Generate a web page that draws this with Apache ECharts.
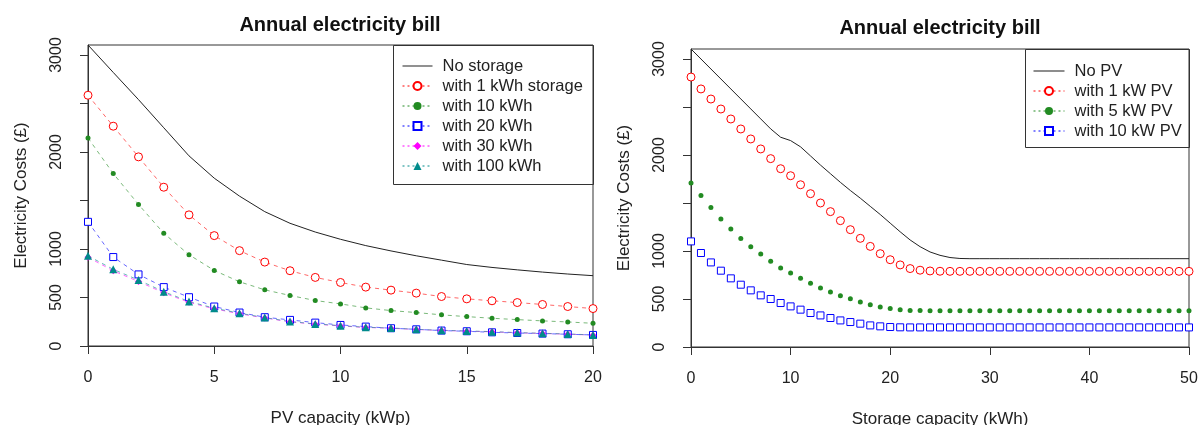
<!DOCTYPE html>
<html><head><meta charset="utf-8">
<script src="https://cdn.jsdelivr.net/npm/echarts@6/dist/echarts.min.js"></script>
<style>html,body{margin:0;padding:0;background:#fff}#c{width:1201px;height:425px}</style>
</head><body><div id="c"></div>
<script>
// ---- Left chart data: bill vs PV capacity ----
const pvCapacity = [0,1,2,3,4,5,6,7,8,9,10,11,12,13,14,15,16,17,18,19,20];
const noStorage  = [3103,2820,2540,2250,1960,1730,1545,1385,1265,1175,1100,1035,980,930,885,840,810,785,762,742,725];
const storage1   = [2585,2266,1950,1637,1352,1138,983,865,776,707,655,607,576,545,510,486,466,448,428,407,386];
const storage10  = [2145,1778,1459,1162,941,779,662,579,521,469,434,393,365,345,321,303,286,272,259,248,234];
const storage20  = [1280,917,738,607,503,407,345,297,269,241,217,200,183,172,159,152,141,134,128,121,114];
const storage30  = [915,775,665,548,450,383,332,289,249,225,207,191,183,170,160,153,146,136,129,122,112];
const storage100 = [930,790,680,560,459,390,338,293,252,228,210,193,186,172,162,155,148,138,131,124,114];

// ---- Right chart data: bill vs storage capacity ----
const storageCapacity = [0,1,2,3,4,5,6,7,8,9,10,11,12,13,14,15,16,17,18,19,20,21,22,23,24,25,26,27,28,29,30,31,32,33,34,35,36,37,38,39,40,41,42,43,44,45,46,47,48,49,50];
const noPV  = [3104,3000,2896,2792,2688,2584,2480,2376,2272,2185,
               2150,2085,1990,1895,1805,1715,1630,1550,1465,1380,
               1290,1200,1115,1045,990,955,932,922,920,920,
               920,920,920,920,920,920,920,920,920,920,
               920,920,920,920,920,920,920,920,920,920,
               920];
const pv1   = [2812,2688,2583,2479,2375,2271,2167,2063,1962,1857,
               1784,1690,1597,1500,1410,1316,1222,1132,1048,972,
               909,855,817,800,792,789,788,788,788,788,
               788,788,788,788,788,788,788,788,788,788,
               788,788,788,788,788,788,788,788,788,788,
               788];
const pv5   = [1708,1579,1454,1333,1229,1131,1045,969,892,823,
               771,715,663,615,573,534,503,469,441,417,
               402,389,381,379,378,378,378,378,378,378,
               378,378,378,378,378,378,378,378,378,378,
               378,378,378,378,378,378,378,378,378,378,
               378];
const pv10  = [1100,979,881,795,715,649,590,538,500,458,
               423,389,354,329,302,277,260,243,225,215,
               208,205,204,204,204,204,204,204,204,204,
               204,204,204,204,204,204,204,204,204,204,
               204,204,204,204,204,204,204,204,204,204,
               204];

const yLabelValues = [0,500,1000,2000,3000];
const yTickValues  = [0,500,1000,1500,2000,2500,3000];

const FONT = "'Liberation Sans', Arial, sans-serif";
const TXT = '#222', AX = '#333';
function pairs(xs, ys){ return xs.map((x,i)=>[x, ys[i]]); }

function xAxisCfg(gi, max, interval, name){
  return {type:'value', gridIndex:gi, min:0, max:max, interval:interval,
    name:name, nameLocation:'middle', nameGap:64,
    nameTextStyle:{fontFamily:FONT, fontSize:17, color:TXT},
    axisLine:{onZero:false, lineStyle:{color:AX, width:1}},
    axisTick:{show:true, length:8, lineStyle:{color:AX}},
    axisLabel:{fontFamily:FONT, fontSize:16, color:TXT, margin:24, formatter:v=>String(v)},
    splitLine:{show:false}};
}
function yAxisCfg(gi, max){
  return {type:'value', gridIndex:gi, min:0, max:max,
    name:'Electricity Costs (£)', nameLocation:'middle', nameGap:58, nameRotate:90,
    nameTextStyle:{fontFamily:FONT, fontSize:17, color:TXT},
    axisLine:{show:true, onZero:false, lineStyle:{color:AX, width:1}},
    axisTick:{show:true, length:8, lineStyle:{color:AX}, customValues:yTickValues},
    axisLabel:{fontFamily:FONT, fontSize:16, color:TXT, rotate:90, margin:23, customValues:yLabelValues, formatter:v=>String(v)},
    splitLine:{show:false}};
}
function ser(name, gi, xs, ys, color, symbol, size, hollow, showLine){
  return {type:'line', name:name, xAxisIndex:gi, yAxisIndex:gi, data:pairs(xs, ys),
    symbol:symbol, symbolSize:size, showAllSymbol:true, animation:false,
    itemStyle: hollow ? {color:'#fff', borderColor:color, borderWidth:1} : {color:color, borderWidth:0},
    lineStyle:{color:color, width:1, type:[4,4], opacity: showLine ? 0.6 : 0}};
}
function blackLine(name, gi, xs, ys){
  return {type:'line', name:name, xAxisIndex:gi, yAxisIndex:gi, data:pairs(xs, ys),
    symbol:'none', animation:false, itemStyle:{color:'#222'},
    lineStyle:{color:'#222', width:1}};
}
function legItem(name, color){ return {name:name, lineStyle:{type:[2,3], width:1, opacity:1, color:color}}; }
const LINE_ICON = 'path://M0,0L30,0L30,1L0,1Z';

const option = {
  backgroundColor:'#fff',
  animation:false,
  grid:[
    {left:88, top:45, width:505, height:301, show:true, borderColor:AX, borderWidth:1, backgroundColor:'transparent', containLabel:false, outerBoundsMode:'none'},
    {left:691, top:49, width:498, height:298, show:true, borderColor:AX, borderWidth:1, backgroundColor:'transparent', containLabel:false, outerBoundsMode:'none'}
  ],
  xAxis:[xAxisCfg(0, 20, 5, 'PV capacity (kWp)'), xAxisCfg(1, 50, 10, 'Storage capacity (kWh)')],
  yAxis:[yAxisCfg(0, 3103), yAxisCfg(1, 3104)],
  legend:[
    {left:397, top:51, orient:'vertical', itemWidth:30, itemHeight:10, itemGap:0, selectedMode:false,
     textStyle:{fontFamily:FONT, fontSize:16.5, color:TXT, lineHeight:20, padding:[0,0,0,5]},
     data:[{name:'No storage', icon:LINE_ICON, itemStyle:{color:'#222'}}, legItem('with 1 kWh storage','#ff0000'), legItem('with 10 kWh','#228b22'),
           legItem('with 20 kWh','#0000ff'), legItem('with 30 kWh','#ff00ff'), legItem('with 100 kWh','#008b8b')]},
    {left:1028, top:56, orient:'vertical', itemWidth:31, itemHeight:10, itemGap:0, selectedMode:false,
     textStyle:{fontFamily:FONT, fontSize:16.5, color:TXT, lineHeight:20, padding:[0,0,0,5]},
     data:[{name:'No PV', icon:LINE_ICON, itemStyle:{color:'#222'}}, legItem('with 1 kW PV','#ff0000'), legItem('with 5 kW PV','#228b22'), legItem('with 10 kW PV','#0000ff')]}
  ],
  graphic:[
    {type:'rect', shape:{x:393.5, y:45.5, width:200, height:139}, style:{fill:'none', stroke:AX, lineWidth:1}, z:100},
    {type:'rect', shape:{x:1025.5, y:49.5, width:164, height:98}, style:{fill:'none', stroke:AX, lineWidth:1}, z:100},
    {type:'text', x:340, y:25, style:{text:'Annual electricity bill', font:"bold 20px 'Liberation Sans', Arial, sans-serif", fill:'#111', textAlign:'center', textVerticalAlign:'middle'}, z:100},
    {type:'text', x:940, y:28, style:{text:'Annual electricity bill', font:"bold 20px 'Liberation Sans', Arial, sans-serif", fill:'#111', textAlign:'center', textVerticalAlign:'middle'}, z:100}
  ],
  series:[
    blackLine('No storage', 0, pvCapacity, noStorage),
    ser('with 1 kWh storage', 0, pvCapacity, storage1, '#ff0000', 'circle', 8, true, true),
    ser('with 10 kWh', 0, pvCapacity, storage10, '#228b22', 'circle', 5, false, true),
    ser('with 20 kWh', 0, pvCapacity, storage20, '#0000ff', 'rect', 7, true, true),
    ser('with 30 kWh', 0, pvCapacity, storage30, '#ff00ff', 'diamond', 7, false, true),
    ser('with 100 kWh', 0, pvCapacity, storage100, '#008b8b', 'triangle', 8, false, true),
    blackLine('No PV', 1, storageCapacity, noPV),
    ser('with 1 kW PV', 1, storageCapacity, pv1, '#ff0000', 'circle', 8, true, false),
    ser('with 5 kW PV', 1, storageCapacity, pv5, '#228b22', 'circle', 5, false, false),
    ser('with 10 kW PV', 1, storageCapacity, pv10, '#0000ff', 'rect', 7, true, false)
  ]
};
const chart = echarts.init(document.getElementById('c'));
chart.setOption(option);
</script></body></html>
